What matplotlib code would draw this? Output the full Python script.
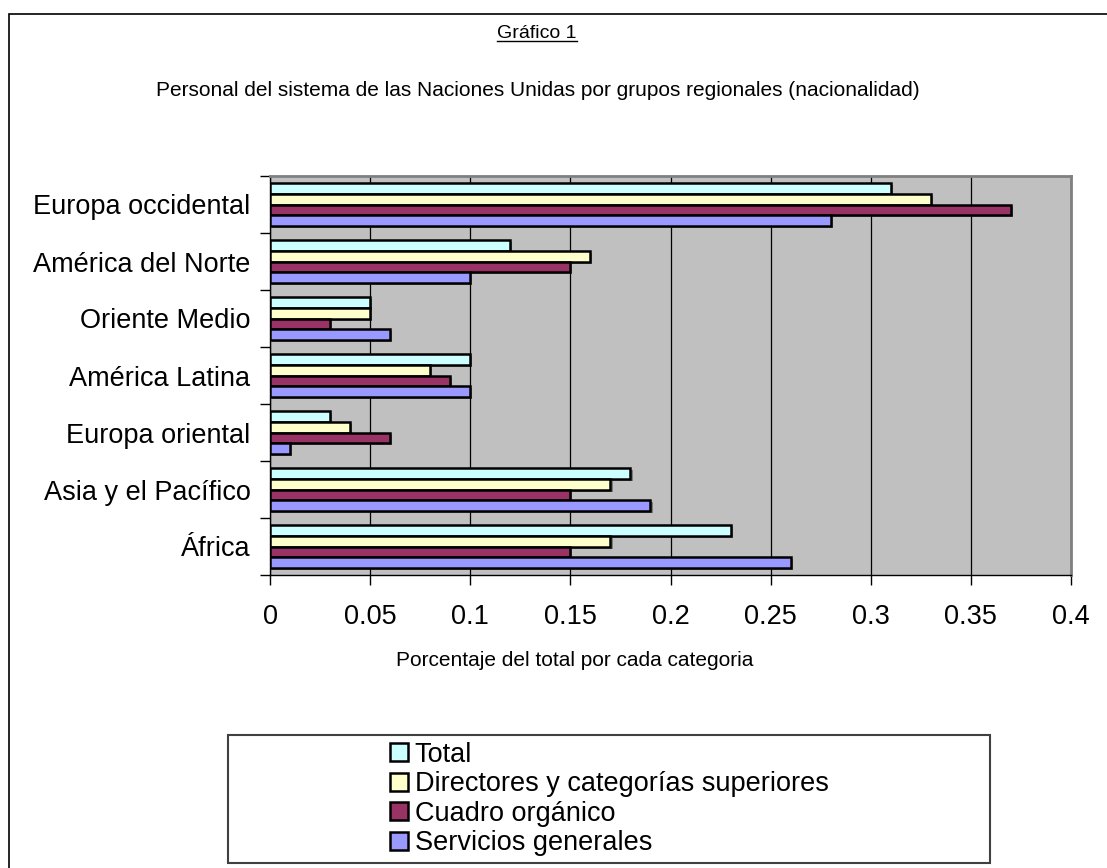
import matplotlib
matplotlib.use("Agg")
import matplotlib.pyplot as plt
from matplotlib.patches import Rectangle, Patch
from matplotlib.lines import Line2D
import matplotlib.patheffects as pe
import numpy as np

plt.rcParams['font.family'] = ['Liberation Sans', 'DejaVu Sans']

regions = ["Europa occidental", "América del Norte", "Oriente Medio",
           "América Latina", "Europa oriental", "Asia y el Pacífico", "África"]
series_names = ["Total", "Directores y categorías superiores",
                "Cuadro orgánico", "Servicios generales"]
total = [0.31, 0.12, 0.05, 0.10, 0.03, 0.18, 0.23]
directores = [0.33, 0.16, 0.05, 0.08, 0.04, 0.17, 0.17]
cuadro = [0.37, 0.15, 0.03, 0.09, 0.06, 0.15, 0.15]
servicios = [0.28, 0.10, 0.06, 0.10, 0.01, 0.19, 0.26]
colors = ["#CCFFFF", "#FFFFCC", "#993366", "#9999FF"]
xticks = [0, 0.05, 0.1, 0.15, 0.2, 0.25, 0.3, 0.35, 0.4]
xtick_labels = ["0", "0.05", "0.1", "0.15", "0.2", "0.25", "0.3", "0.35", "0.4"]

title = "Gráfico 1"
subtitle = "Personal del sistema de las Naciones Unidas por grupos regionales (nacionalidad)"
xlabel = "Porcentaje del total por cada categoria"

W, H = 1107, 868
fig = plt.figure(figsize=(W / 100, H / 100), dpi=100)
fig.patch.set_facecolor("white")

# outer chart border
fig.add_artist(Rectangle((9 / W, -0.05), 1.2, 1 - 14 / H + 0.05,
                         transform=fig.transFigure, fill=False,
                         edgecolor="black", linewidth=1.2))

ax = fig.add_axes([270 / W, 1 - 575 / H, 801 / W, 399 / H])
ax.set_facecolor("#C0C0C0")

n = len(regions)
ypos = n - 1 - np.arange(n)
bh = 0.185
series = [total, directores, cuadro, servicios]
shadow = [pe.SimplePatchShadow(offset=(1.5, -1.5), shadow_rgbFace="#505050", alpha=0.6),
          pe.Normal()]
for i, (vals, name, c) in enumerate(zip(series, series_names, colors)):
    offs = (1.5 - i) * bh
    ax.barh(ypos + offs, vals, height=bh, color=c, edgecolor="black",
            linewidth=1.8, label=name, zorder=3, path_effects=shadow)

ax.set_xlim(0, 0.4)
ax.set_ylim(-0.5, n - 0.5)
ax.set_xticks(xticks)
ax.set_xticklabels(xtick_labels, fontsize=19.5)
ax.set_yticks(ypos)
ax.set_yticklabels(regions, fontsize=19.5)
ax.set_yticks(np.arange(-0.5, n, 1), minor=True)
ax.tick_params(axis="y", which="major", length=0, pad=14)
ax.tick_params(axis="y", which="minor", length=7, width=1, direction="out")
ax.tick_params(axis="x", which="major", length=7, width=1, direction="out", pad=14)
ax.set_axisbelow(True)
ax.grid(axis="x", color="black", linewidth=0.9)
for s in ["left", "bottom"]:
    ax.spines[s].set_color("black")
    ax.spines[s].set_linewidth(1.0)
for s in ["top", "right"]:
    ax.spines[s].set_color("#808080")
    ax.spines[s].set_linewidth(2.0)

fig.text(575 / W, 1 - 660 / H, xlabel, ha="center", va="center", fontsize=15)
t = fig.text(537 / W, 1 - 33 / H, title, ha="center", va="center", fontsize=14)
fig.text(538 / W, 1 - 90 / H, subtitle, ha="center", va="center", fontsize=15)

# legend box
fig.add_artist(Rectangle((228 / W, 1 - 863 / H), (990 - 228) / W, (863 - 735) / H,
                         transform=fig.transFigure, facecolor="white",
                         edgecolor="#404040", linewidth=1.5))
handles = [Patch(facecolor=c, edgecolor="black", linewidth=1.8) for c in colors]
fig.legend(handles, series_names, loc="center", bbox_to_anchor=(609 / W, 1 - 799 / H),
           frameon=False, fontsize=19.5, handlelength=0.67, handleheight=0.67,
           handletextpad=0.25, labelspacing=0.13, borderpad=0, borderaxespad=0)

# underline for title
fig.canvas.draw()
bb = t.get_window_extent()
fig.add_artist(Line2D([bb.x0 / W, bb.x1 / W], [(bb.y0 + 1) / H, (bb.y0 + 1) / H],
                      transform=fig.transFigure, color="black", linewidth=1.0))

fig.savefig("out.png", dpi=100)
